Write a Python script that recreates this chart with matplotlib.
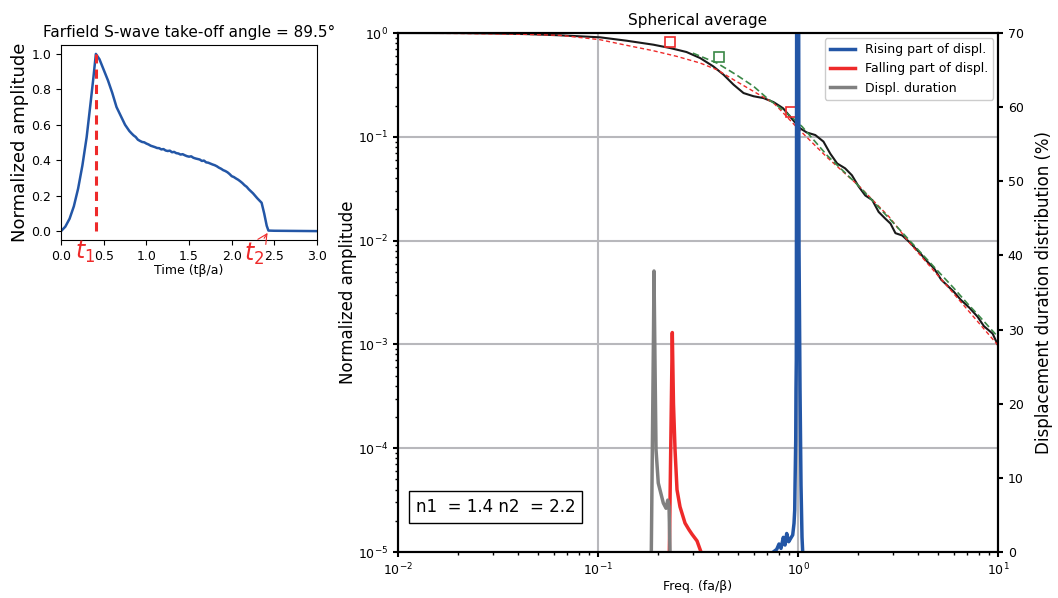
import numpy as np
import matplotlib
matplotlib.use('Agg')
import matplotlib.pyplot as plt

# ---- time-domain displacement pulse (left panel) ----
pulse_t = [0.0, 0.05, 0.1, 0.15, 0.2, 0.25, 0.3, 0.35, 0.38, 0.408, 0.45, 0.5, 0.55, 0.6,
           0.65, 0.7, 0.75, 0.8, 0.825, 0.85, 0.875, 0.9, 0.925, 0.95, 0.975, 1.0, 1.025,
           1.05, 1.075, 1.1, 1.125, 1.15, 1.175, 1.2, 1.225, 1.25, 1.275, 1.3, 1.325,
           1.35, 1.375, 1.4, 1.425, 1.45, 1.475, 1.5, 1.525, 1.55, 1.575, 1.6, 1.625,
           1.65, 1.675, 1.7, 1.725, 1.75, 1.775, 1.8, 1.825, 1.85, 1.875, 1.9, 1.925,
           1.95, 1.975, 2.0, 2.025, 2.05, 2.075, 2.1, 2.125, 2.15, 2.175, 2.2, 2.25,
           2.3, 2.35, 2.38, 2.41, 2.43, 2.5, 3.0]
pulse_amp = [0.0, 0.025, 0.07, 0.14, 0.24, 0.37, 0.53, 0.74, 0.87, 1.0, 0.97, 0.91, 0.85, 0.78,
             0.70, 0.65, 0.60, 0.565, 0.552, 0.540, 0.531, 0.516, 0.509, 0.503, 0.501, 0.494, 0.489,
             0.482, 0.478, 0.474, 0.469, 0.468, 0.461, 0.463, 0.455, 0.452, 0.454, 0.445, 0.447,
             0.440, 0.438, 0.432, 0.434, 0.428, 0.423, 0.420, 0.422, 0.414, 0.410, 0.407, 0.404,
             0.396, 0.398, 0.388, 0.386, 0.381, 0.376, 0.372, 0.366, 0.358, 0.352, 0.344, 0.339,
             0.332, 0.322, 0.310, 0.305, 0.297, 0.290, 0.281, 0.271, 0.259, 0.250, 0.236, 0.213,
             0.185, 0.16, 0.10, 0.03, 0.003, 0.002, 0.0]
t1 = 0.408
t2 = 2.42
take_off = 89.5

# ---- spherical-average spectrum (right panel) ----
spec_f = [0.01, 0.02, 0.03, 0.045, 0.0646, 0.1023, 0.139, 0.189, 0.229, 0.277, 0.324,
          0.377, 0.424, 0.476, 0.534, 0.599, 0.672, 0.754, 0.813, 0.843, 0.93, 1.023,
          1.107, 1.22, 1.34, 1.45, 1.57, 1.72, 1.86, 2.01, 2.17, 2.35, 2.53, 2.73, 2.9,
          3.07, 3.32, 3.58, 3.8, 4.1, 4.35, 4.79, 5.2, 5.57, 6.03, 6.5, 7.2, 7.9, 8.5,
          9.4, 10.0]
spec_amp = [1.0, 0.998, 0.99, 0.975, 0.95, 0.909, 0.843, 0.772, 0.717, 0.656, 0.574,
            0.477, 0.397, 0.318, 0.264, 0.246, 0.236, 0.216, 0.197, 0.188, 0.150, 0.121,
            0.110, 0.104, 0.090, 0.0688, 0.0553, 0.0497, 0.0426, 0.0332, 0.0272, 0.0246,
            0.0189, 0.0163, 0.0146, 0.0118, 0.0112, 0.0098, 0.0087, 0.0075, 0.0065, 0.0054,
            0.0042, 0.0037, 0.0032, 0.0027, 0.00225, 0.00185, 0.0015, 0.00127, 0.00098]

# double-corner fit
fit2_f = [0.01, 0.02, 0.04, 0.0646, 0.1023, 0.139, 0.189, 0.2474, 0.324, 0.393, 0.476,
          0.599, 0.754, 0.813, 0.98, 1.39, 2.03, 2.85, 3.63, 5.75, 10.0]
fit2_amp = [0.998, 0.99, 0.975, 0.95, 0.862, 0.761, 0.675, 0.596, 0.514, 0.443, 0.355,
            0.274, 0.212, 0.183, 0.125, 0.064, 0.0332, 0.0170, 0.0094, 0.0034, 0.00098]
fit2_corners_f = [0.23, 0.925]
fit2_corners_amp = [0.813, 0.172]

# single-corner fit
fit1_f = [0.298, 0.393, 0.49, 0.6, 0.7, 0.8, 0.93, 1.05, 1.4, 2.0, 3.0, 4.0, 5.0,
          6.0, 7.0, 8.0, 10.0]
fit1_amp = [0.64, 0.514, 0.397, 0.306, 0.236, 0.195, 0.155, 0.125, 0.066, 0.034,
            0.0148, 0.0081, 0.0051, 0.0035, 0.0025, 0.0019, 0.00118]
fit1_corner_f = [0.402]
fit1_corner_amp = [0.583]

n1, n2 = 1.4, 2.2

# duration distributions (%)
rise_f = [0.7522, 0.7825, 0.8035, 0.8222, 0.8443, 0.861, 0.878, 0.8983, 0.9194, 0.9408,
          0.955, 0.9627, 0.966, 0.974, 0.977, 0.9806, 0.9863, 1.0046, 1.0116, 1.0233,
          1.0351, 1.0471, 1.0554]
rise_pct = [0.0, 0.36, 1.08, 0.49, 1.98, 0.94, 2.5, 1.39, 1.85, 2.3,
            3.87, 5.67, 8.8, 15.1, 21.9, 25.9, 95.0, 95.0, 41.0, 22.0,
            9.0, 2.0, 0.0]
fall_f = [0.2273, 0.2352, 0.2384, 0.2427, 0.2483, 0.2570, 0.2723, 0.2851, 0.2951, 0.3126, 0.3273]
fall_pct = [0.0, 29.6, 20.0, 13.8, 8.4, 6.1, 3.9, 3.0, 2.4, 1.5, 0.0]
dur_f = [0.1847, 0.1895, 0.1905, 0.1928, 0.195, 0.2001, 0.2121, 0.2188, 0.2232, 0.2265, 0.2291]
dur_pct = [0.0, 30.0, 37.9, 25.0, 13.8, 9.3, 6.6, 5.9, 7.0, 6.1, 0.0]

BLUE = '#2356a6'
RED = '#ee2a2a'
GREY = '#808080'
GREEN = '#3a8746'

fig = plt.figure(figsize=(10.58, 5.98), dpi=100)

# left: pulse
ax1 = fig.add_axes([0.0577, 0.5987, 0.242, 0.326])
ax1.plot(pulse_t, pulse_amp, color=BLUE, lw=1.8)
ax1.plot([t1, t1], [0, 1.0], color=RED, lw=2.2, ls=(0, (3, 2)))
ax1.set_xlim(0, 3)
ax1.set_ylim(-0.05, 1.05)
ax1.set_xticks(np.arange(0, 3.01, 0.5))
ax1.tick_params(labelsize=9)
ax1.set_xlabel('Time (tβ/a)', fontsize=9, labelpad=1)
ax1.set_ylabel('Normalized amplitude', fontsize=13, labelpad=2)
ax1.set_title('Farfield S-wave take-off angle = %.1f°' % take_off, fontsize=11)
ax1.text(t1 - 0.13, -0.12, '$t_1$', color=RED, fontsize=17, ha='center', va='center', clip_on=False)
ax1.annotate('$t_2$', xy=(t2, -0.01), xytext=(t2 - 0.16, -0.13), color=RED, fontsize=17,
             ha='center', va='center', annotation_clip=False,
             arrowprops=dict(arrowstyle='->', color=RED, lw=0.8, shrinkA=6, shrinkB=0))

# right: spectrum
ax2 = fig.add_axes([0.3762, 0.0769, 0.5671, 0.8679])
ax2.loglog(spec_f, spec_amp, color='#1a1a1a', lw=1.5, zorder=3)
ax2.loglog(fit2_f, fit2_amp, color=RED, lw=1.0, ls=(0, (3, 2)), zorder=3)
ax2.loglog(fit1_f, fit1_amp, color=GREEN, lw=1.2, ls=(0, (4, 2)), zorder=3)
ax2.plot(fit2_corners_f, fit2_corners_amp, 's', ms=7, mfc='none', mec=RED, mew=1.2, zorder=4)
ax2.plot(fit1_corner_f, fit1_corner_amp, 's', ms=7, mfc='none', mec=GREEN, mew=1.2, zorder=4)
ax2.set_xlim(1e-2, 1e1)
ax2.set_ylim(1e-5, 1)
ax2.grid(True, which='major', color='#b8b8bc', lw=1.5)
ax2.tick_params(labelsize=9, width=1.5)
ax2.tick_params(which='minor', width=1.0)
for s in ax2.spines.values():
    s.set_linewidth(1.5)
ax2.set_xlabel('Freq. (fa/β)', fontsize=9, labelpad=1)
ax2.set_ylabel('Normalized amplitude', fontsize=12, labelpad=1)
ax2.set_title('Spherical average', fontsize=11)
ax2.text(0.163, 0.0867, 'n1  = %.1f n2  = %.1f' % (n1, n2), transform=ax2.transAxes,
         fontsize=12, ha='center', va='center',
         bbox=dict(boxstyle='square,pad=0.4', fc='white', ec='black', lw=1.0))

ax3 = ax2.twinx()
ax3.plot(rise_f, rise_pct, color=BLUE, lw=2.5, label='Rising part of displ.')
ax3.plot(fall_f, fall_pct, color=RED, lw=2.5, label='Falling part of displ.')
ax3.plot(dur_f, dur_pct, color=GREY, lw=2.5, label='Displ. duration')
ax3.set_ylim(0, 70)
ax3.set_yticks(np.arange(0, 71, 10))
ax3.tick_params(labelsize=9, width=1.5)
for s in ax3.spines.values():
    s.set_linewidth(1.5)
ax3.set_ylabel('Displacement duration distribution (%)', fontsize=12, labelpad=8)
ax3.legend(loc='upper right', fontsize=9, framealpha=1.0, borderaxespad=0.4)

fig.savefig('out.png', dpi=100)
